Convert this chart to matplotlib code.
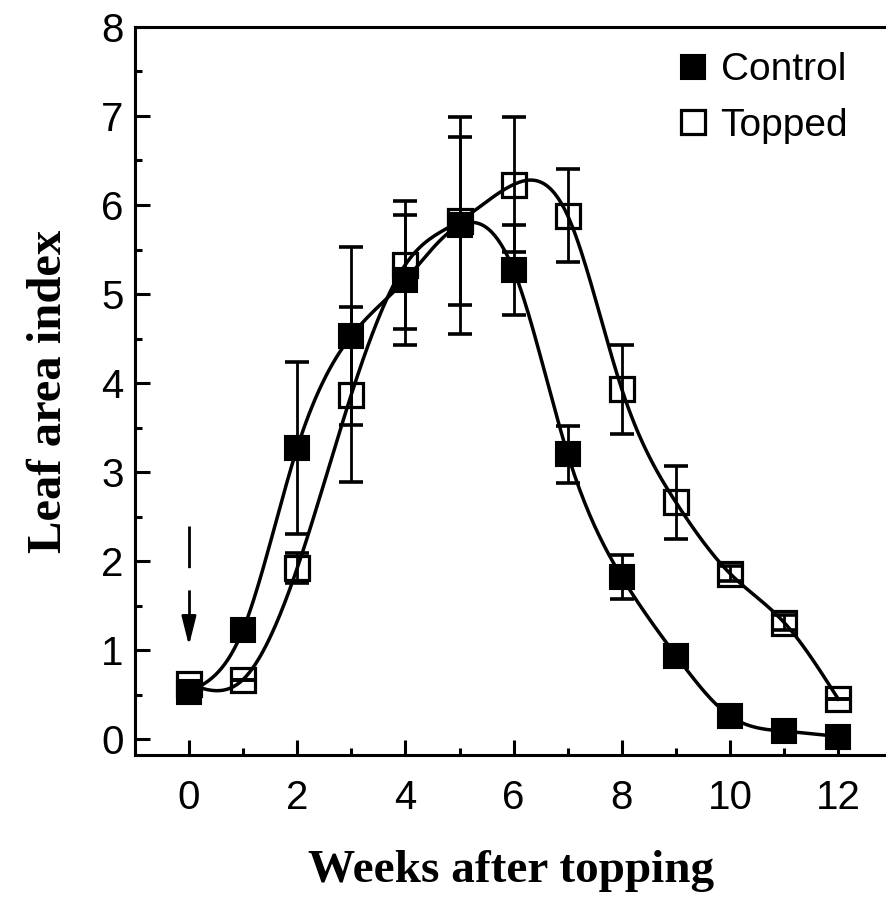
import numpy as np
import matplotlib
matplotlib.use("Agg")
import matplotlib.pyplot as plt
from matplotlib.ticker import MultipleLocator

# === data ===
weeks = np.arange(0, 13)
control = [0.53, 1.23, 3.27, 4.53, 5.16, 5.77, 5.27, 3.20, 1.82, 0.94, 0.26, 0.09, 0.03]
control_err = [0, 0, 0.97, 1.0, 0.73, 1.22, 0.50, 0.32, 0.25, 0, 0, 0, 0]
topped = [0.62, 0.67, 1.92, 3.87, 5.33, 5.82, 6.23, 5.88, 3.93, 2.66, 1.86, 1.31, 0.45]
topped_err = [0, 0, 0.17, 0.98, 0.72, 0.94, 0.76, 0.52, 0.50, 0.41, 0.08, 0.08, 0]


def natural_spline(x, y, xs):
    # plain natural cubic spline, numpy only
    x = np.asarray(x, float)
    y = np.asarray(y, float)
    n = len(x)
    h = np.diff(x)
    A = np.zeros((n, n))
    b = np.zeros(n)
    A[0, 0] = A[-1, -1] = 1
    for i in range(1, n - 1):
        A[i, i - 1] = h[i - 1]
        A[i, i] = 2 * (h[i - 1] + h[i])
        A[i, i + 1] = h[i]
        b[i] = 3 * ((y[i + 1] - y[i]) / h[i] - (y[i] - y[i - 1]) / h[i - 1])
    c = np.linalg.solve(A, b)
    idx = np.clip(np.searchsorted(x, xs) - 1, 0, n - 2)
    dx = xs - x[idx]
    hi = h[idx]
    bi = (y[idx + 1] - y[idx]) / hi - hi * (2 * c[idx] + c[idx + 1]) / 3
    di = (c[idx + 1] - c[idx]) / (3 * hi)
    return y[idx] + bi * dx + c[idx] * dx ** 2 + di * dx ** 3


tick_font = ["Liberation Sans Narrow", "Liberation Sans", "DejaVu Sans"]
label_font = ["Liberation Serif", "DejaVu Serif"]

fig = plt.figure(figsize=(8.87, 8.98), dpi=100)
ax = fig.add_axes([0.152, 0.159, 0.848, 0.811])

xs = np.linspace(0, 12, 400)
ax.plot(xs, natural_spline(weeks, control, xs), color="black", lw=2.5, zorder=2)
ax.plot(xs, natural_spline(weeks, topped, xs), color="black", lw=2.5, zorder=2)

err_kw = dict(fmt="none", ecolor="black", elinewidth=2.0, capsize=8.5, capthick=2.6, zorder=3)
ax.errorbar(weeks, topped, yerr=topped_err, **err_kw)
ax.errorbar(weeks, control, yerr=control_err, **err_kw)

ax.plot(weeks, topped, "s", ms=17, mfc="none", mec="black", mew=2.3, zorder=4,
        label="Topped", linestyle="none")
ax.plot(weeks, control, "s", ms=17, mfc="black", mec="black", mew=1.5, zorder=5,
        label="Control", linestyle="none")

# topping arrow at week 0
ax.plot([0, 0], [2.4, 1.2], color="black", lw=2.0, linestyle=(0, (15, 8)))
ax.annotate("", xy=(0, 1.02), xytext=(0, 1.3),
            arrowprops=dict(arrowstyle="-|>,head_length=0.8,head_width=0.2",
                            color="black", lw=2.0, mutation_scale=22))

ax.set_xlim(-1.0, 12.9)
ax.set_ylim(-0.18, 8.0)
ax.xaxis.set_major_locator(MultipleLocator(2))
ax.xaxis.set_minor_locator(MultipleLocator(1))
ax.yaxis.set_major_locator(MultipleLocator(1))
ax.yaxis.set_minor_locator(MultipleLocator(0.5))
ax.tick_params(which="major", direction="in", length=11, width=2.2)
ax.tick_params(which="minor", direction="in", length=5, width=2.2)
ax.tick_params(axis="x", which="major", pad=17)
ax.tick_params(axis="y", which="major", pad=8)
for lab in ax.get_xticklabels() + ax.get_yticklabels():
    lab.set_family(tick_font)
    lab.set_fontsize(29)

for s in ["left", "bottom", "top"]:
    ax.spines[s].set_linewidth(2.2)
ax.spines["right"].set_visible(False)

ax.set_xlabel("Weeks after topping", family=label_font, weight="bold", fontsize=34, labelpad=24)
ax.set_ylabel("Leaf area index", family=label_font, weight="bold", fontsize=35, labelpad=22)

handles, labels = ax.get_legend_handles_labels()
leg = ax.legend(handles[::-1], labels[::-1], loc="upper right", bbox_to_anchor=(0.995, 1.013),
                frameon=False, handletextpad=0.2, handlelength=1.0, labelspacing=0.5,
                markerscale=1.0, prop={"family": tick_font, "size": 28})

fig.savefig("out.png", dpi=100)
